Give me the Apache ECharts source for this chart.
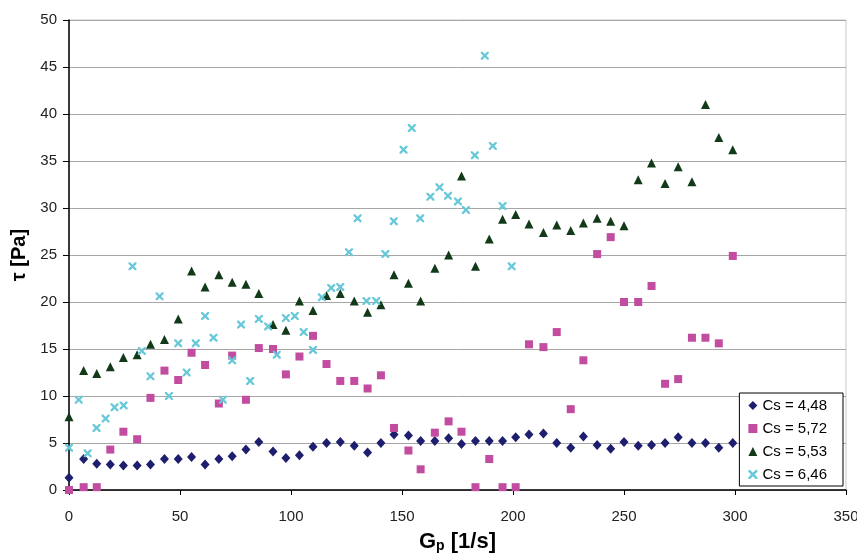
<!DOCTYPE html>
<html>
<head>
<meta charset="utf-8">
<script src="https://cdn.jsdelivr.net/npm/echarts@6/dist/echarts.min.js"></script>
<style>
  html, body { margin: 0; padding: 0; background: #fff; }
  #chart { width: 857px; height: 555px; }
</style>
</head>
<body>
<div id="chart"></div>
<script>
// shear rate values shared by the first three series
var gpMain = [0, 6.6, 12.5, 18.6, 24.5, 30.7, 36.7, 43, 49.2, 55.2, 61.3, 67.5, 73.5, 79.7, 85.5, 91.9, 97.7,
  103.8, 109.9, 116, 122.2, 128.5, 134.5, 140.5, 146.4, 152.9, 158.4, 164.8, 171, 176.8, 183.1, 189.3, 195.3,
  201.2, 207.2, 213.7, 219.7, 226, 231.7, 237.9, 244, 250, 256.4, 262.4, 268.5, 274.4, 280.6, 286.7, 292.7, 299];
// shear rate values of the Cs = 6,46 series
var gpCross = [0, 4.4, 8.4, 12.4, 16.5, 20.5, 24.6, 28.6, 32.8, 36.7, 40.8, 45, 49.2, 53, 57.1, 61.3, 65.1,
  69.3, 73.5, 77.5, 81.6, 85.5, 89.7, 93.6, 97.7, 101.7, 105.7, 109.9, 113.9, 118.1, 122.2, 126.1, 130,
  134, 138.4, 142.5, 146.3, 150.7, 154.4, 158.2, 162.8, 166.9, 170.7, 175.2, 178.8, 182.8, 187.3, 190.9, 195.3, 199.4];

var tau448 = [1.3, 3.3, 2.8, 2.7, 2.6, 2.6, 2.7, 3.3, 3.3, 3.5, 2.7, 3.3, 3.6, 4.3, 5.1, 4.1, 3.4, 3.7, 4.6, 5.0,
  5.1, 4.7, 4.0, 5.0, 5.9, 5.8, 5.2, 5.2, 5.5, 4.9, 5.2, 5.2, 5.2, 5.6, 5.9, 6.0, 5.0, 4.5, 5.7, 4.8,
  4.4, 5.1, 4.7, 4.8, 5.0, 5.6, 5.0, 5.0, 4.5, 5.0];
var tau572 = [0, 0.3, 0.3, 4.3, 6.2, 5.4, 9.8, 12.7, 11.7, 14.6, 13.3, 9.2, 14.3, 9.6, 15.1, 15.0, 12.3, 14.2, 16.4, 13.4,
  11.6, 11.6, 10.8, 12.2, 6.6, 4.2, 2.2, 6.1, 7.3, 6.2, 0.3, 3.3, 0.3, 0.3, 15.5, 15.2, 16.8, 8.6, 13.8, 25.1,
  26.9, 20.0, 20.0, 21.7, 11.3, 11.8, 16.2, 16.2, 15.6, 24.9];
var tau553 = [7.8, 12.7, 12.4, 13.1, 14.1, 14.4, 15.5, 16.0, 18.2, 23.3, 21.6, 22.9, 22.1, 21.9, 20.9, 17.6, 17.0, 20.1, 19.1, 20.7,
  20.9, 20.1, 18.9, 19.7, 22.9, 22.0, 20.1, 23.6, 25.0, 33.4, 23.8, 26.7, 28.8, 29.3, 28.3, 27.4, 28.2, 27.6, 28.4, 28.9,
  28.6, 28.1, 33.0, 34.8, 32.6, 34.4, 32.8, 41.0, 37.5, 36.2];
var tau646 = [4.5, 9.6, 3.9, 6.6, 7.6, 8.8, 9.0, 23.8, 14.8, 12.1, 20.6, 10.0, 15.6, 12.5, 15.6, 18.5, 16.2, 9.6, 13.8, 17.6,
  11.6, 18.2, 17.4, 14.4, 18.3, 18.5, 16.8, 14.9, 20.5, 21.5, 21.6, 25.3, 28.9, 20.1, 20.1, 25.1, 28.6, 36.2, 38.5, 28.9,
  31.2, 32.2, 31.3, 30.7, 29.8, 35.6, 46.2, 36.6, 30.2, 23.8];

var seriesNames = ['Cs = 4,48', 'Cs = 5,72', 'Cs = 5,53', 'Cs = 6,46'];

function pairs(xs, ys) {
  return ys.map(function (y, i) { return [xs[i], y]; });
}

var crossPath = 'path://M0,0 L2,0 L5,3 L8,0 L10,0 L10,2 L7,5 L10,8 L10,10 L8,10 L5,7 L2,10 L0,10 L0,8 L3,5 L0,2 Z';

var option = {
  animation: false,
  textStyle: { fontFamily: 'Liberation Sans, Arial, sans-serif' },
  grid: {
    left: 69, right: 11, top: 20, bottom: 65,
    outerBoundsMode: 'none',
    show: true, borderColor: '#c8c8c8', borderWidth: 1
  },
  legend: {
    data: seriesNames,
    orient: 'vertical',
    right: 14, top: 393,
    backgroundColor: '#fff',
    borderColor: '#000', borderWidth: 1,
    padding: [5, 16, 4, 9],
    itemWidth: 9, itemHeight: 9, itemGap: 8,
    textStyle: { fontSize: 15, color: '#000' }
  },
  xAxis: {
    type: 'value', min: 0, max: 350, interval: 50,
    name: '{b|G}{s|p}{b| [1/s]}',
    nameLocation: 'middle', nameGap: 40,
    nameTextStyle: {
      rich: {
        b: { fontSize: 22, fontWeight: 'bold', color: '#000' },
        s: { fontSize: 14, fontWeight: 'bold', color: '#000', padding: [9, 0, 0, 0] }
      }
    },
    axisLine: { onZero: false, lineStyle: { color: '#000', width: 1.5 } },
    axisTick: { show: true, length: 5, lineStyle: { color: '#000' } },
    axisLabel: { fontSize: 15, color: '#222', margin: 19 },
    splitLine: { show: false }
  },
  yAxis: {
    type: 'value', min: 0, max: 50, interval: 5,
    name: 'τ [Pa]',
    nameLocation: 'middle', nameGap: 39, nameRotate: 90,
    nameTextStyle: { fontSize: 20, fontWeight: 'bold', color: '#000' },
    axisLine: { show: true, lineStyle: { color: '#000', width: 1.5 } },
    axisTick: { show: true, length: 6, lineStyle: { color: '#000' } },
    axisLabel: { fontSize: 15, color: '#222', margin: 12 },
    splitLine: { show: true, lineStyle: { color: '#a6a6a6', width: 1 } }
  },
  series: [
    {
      name: seriesNames[0], type: 'scatter',
      symbol: 'diamond', symbolSize: [9, 10],
      itemStyle: { color: '#1e1e6e', opacity: 1 },
      data: pairs(gpMain, tau448)
    },
    {
      name: seriesNames[1], type: 'scatter',
      symbol: 'rect', symbolSize: 8,
      itemStyle: { color: '#c14ca0', opacity: 1 },
      data: pairs(gpMain, tau572)
    },
    {
      name: seriesNames[2], type: 'scatter',
      symbol: 'triangle', symbolSize: [9, 9],
      itemStyle: { color: '#123a18', opacity: 1 },
      data: pairs(gpMain, tau553)
    },
    {
      name: seriesNames[3], type: 'scatter',
      symbol: crossPath, symbolSize: 8,
      itemStyle: { color: '#66c8d8', opacity: 1 },
      data: pairs(gpCross, tau646)
    }
  ]
};

var myChart = echarts.init(document.getElementById('chart'));
myChart.setOption(option);
</script>
</body>
</html>
